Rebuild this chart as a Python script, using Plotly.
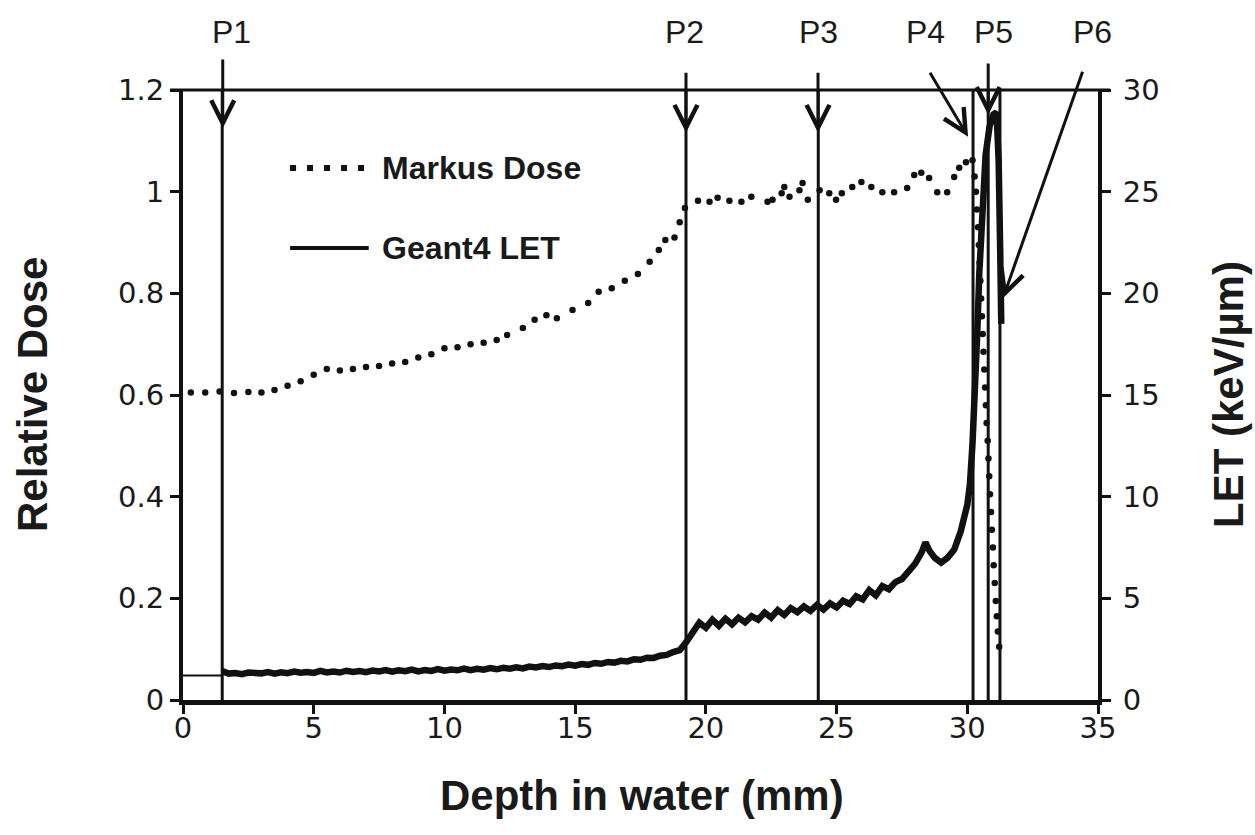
import plotly.graph_objects as go

# ---------------- data ----------------
dose_depth = [0.3, 0.85, 1.4, 1.95, 2.5, 3.0, 3.5, 4.0, 4.5, 5.0, 5.5, 6.0, 6.5, 7.0, 7.5,
              8.0, 8.5, 9.0, 9.5, 10.0, 10.5, 11.0, 11.5, 12.0, 12.4, 13.0, 13.45, 13.9,
              14.3, 14.9, 15.5, 15.9, 16.4, 16.9, 17.4, 17.85, 18.2, 18.45, 18.8, 19.0,
              19.2, 19.7, 20.14, 20.45, 20.9, 21.36, 21.74, 22.36, 22.55, 22.9, 23.0,
              23.2, 23.58, 23.7, 23.9, 24.35, 24.72, 24.98, 25.2, 25.6, 25.95, 26.33,
              26.75, 27.2, 27.7, 27.97, 28.24, 28.54, 28.85, 29.23, 29.5, 29.69, 29.95,
              30.2, 30.28, 30.33, 30.37, 30.41, 30.44, 30.47, 30.5, 30.53, 30.56, 30.59,
              30.62, 30.65, 30.68, 30.71, 30.74, 30.78, 30.81, 30.84, 30.87, 30.91,
              30.94, 30.98, 31.01, 31.05, 31.09, 31.13, 31.17, 31.22]
dose_value = [0.605, 0.605, 0.607, 0.604, 0.606, 0.605, 0.610, 0.618, 0.627, 0.640, 0.651,
              0.648, 0.651, 0.655, 0.657, 0.662, 0.665, 0.674, 0.680, 0.692, 0.694, 0.700,
              0.703, 0.708, 0.718, 0.732, 0.748, 0.757, 0.751, 0.767, 0.781, 0.803, 0.810,
              0.825, 0.838, 0.862, 0.885, 0.905, 0.910, 0.940, 0.968, 0.982, 0.980, 0.988,
              0.982, 0.980, 0.990, 0.980, 0.984, 0.997, 1.009, 0.990, 1.003, 1.017, 0.984,
              1.003, 0.997, 0.984, 0.997, 1.009, 1.019, 1.009, 0.999, 0.999, 1.007, 1.033,
              1.037, 1.027, 0.999, 0.999, 1.029, 1.047, 1.058, 1.062, 1.030, 1.000, 0.965,
              0.930, 0.895, 0.860, 0.825, 0.790, 0.755, 0.720, 0.685, 0.650, 0.615, 0.580,
              0.545, 0.510, 0.475, 0.440, 0.405, 0.370, 0.335, 0.300, 0.265, 0.230, 0.195,
              0.165, 0.135, 0.105]

let_lead_depth = [0.0, 1.5]
let_lead_value = [1.2, 1.2]

let_depth = [1.5, 1.75, 2.0, 2.25, 2.5, 2.75, 3.0, 3.25, 3.5, 3.75, 4.0, 4.25, 4.5, 4.75,
             5.0, 5.25, 5.5, 5.75, 6.0, 6.25, 6.5, 6.75, 7.0, 7.25, 7.5, 7.75, 8.0, 8.25,
             8.5, 8.75, 9.0, 9.25, 9.5, 9.75, 10.0, 10.25, 10.5, 10.75, 11.0, 11.25, 11.5,
             11.75, 12.0, 12.25, 12.5, 12.75, 13.0, 13.25, 13.5, 13.75, 14.0, 14.25, 14.5,
             14.75, 15.0, 15.25, 15.5, 15.75, 16.0, 16.25, 16.5, 16.75, 17.0, 17.25, 17.5,
             17.75, 18.0, 18.25, 18.5, 18.75, 19.0, 19.25, 19.5, 19.75, 20.0, 20.25, 20.5,
             20.75, 21.0, 21.25, 21.5, 21.75, 22.0, 22.25, 22.5, 22.75, 23.0, 23.25, 23.5,
             23.75, 24.0, 24.25, 24.5, 24.75, 25.0, 25.25, 25.5, 25.75, 26.0, 26.25, 26.5,
             26.75, 27.0, 27.25, 27.5, 27.75, 28.0, 28.25, 28.4, 28.55, 28.75, 29.0, 29.25,
             29.5, 29.75, 30.0, 30.1, 30.2, 30.3, 30.38, 30.46, 30.56, 30.7, 30.85, 31.0,
             31.12, 31.2, 31.26, 31.3]
let_value = [1.42, 1.30, 1.33, 1.27, 1.35, 1.29, 1.31, 1.37, 1.30, 1.36, 1.32, 1.40, 1.34,
             1.38, 1.33, 1.43, 1.36, 1.40, 1.35, 1.44, 1.38, 1.42, 1.37, 1.45, 1.40, 1.47,
             1.39, 1.46, 1.42, 1.50, 1.41, 1.47, 1.43, 1.52, 1.44, 1.50, 1.46, 1.54, 1.47,
             1.53, 1.49, 1.57, 1.51, 1.58, 1.54, 1.61, 1.55, 1.64, 1.60, 1.67, 1.62, 1.70,
             1.66, 1.74, 1.69, 1.77, 1.73, 1.82, 1.78, 1.87, 1.84, 1.93, 1.90, 2.00, 1.98,
             2.08, 2.07, 2.18, 2.22, 2.36, 2.45,
             2.85, 3.35, 3.80, 3.55, 3.95, 3.65, 4.00, 3.72, 4.05, 3.82, 4.12, 3.95, 4.30,
             4.05, 4.42, 4.18, 4.52, 4.32, 4.60, 4.38, 4.68, 4.45, 4.75, 4.55, 4.88, 4.72,
             5.10,
             4.95, 5.40, 5.15, 5.60, 5.45, 5.80, 5.95, 6.30, 6.70, 7.25, 7.75, 7.35, 7.00,
             6.75, 7.00, 7.40, 8.30, 9.60, 10.6, 12.6, 15.2, 18.0, 21.0, 24.0, 26.8, 28.2,
             28.8, 28.9, 26.5, 22.0, 18.5]

marker_depths = [1.5, 19.24, 24.3, 30.22, 30.8, 31.25]
marker_labels = ["P1", "P2", "P3", "P4", "P5", "P6"]
label_depths = [1.87, 19.2, 24.3, 28.4, 31.0, 34.8]
arrow_tail = [(1.52, 1.263), (19.24, 1.237), (24.29, 1.237), (28.54, 1.237), (30.8, 1.255), (34.43, 1.239)]
arrow_tip = [(1.52, 1.125), (19.24, 1.116), (24.29, 1.116), (30.03, 1.108), (30.8, 1.151), (31.37, 0.791)]

x_ticks = [0, 5, 10, 15, 20, 25, 30, 35]
dose_ticks = [0, 0.2, 0.4, 0.6, 0.8, 1.0, 1.2]
dose_tick_text = ["0", "0.2", "0.4", "0.6", "0.8", "1", "1.2"]
let_ticks = [0, 5, 10, 15, 20, 25, 30]

# ---------------- figure ----------------
TICK_FONT = dict(family="DejaVu Sans", size=29, color="#1a1a1a")
TITLE_FONT = dict(family="Liberation Sans", size=42, color="#1a1a1a", weight="bold")
LABEL_FONT = dict(family="Liberation Sans", size=32, color="#1a1a1a")
LEGEND_FONT = dict(family="Liberation Sans", size=32, color="#1a1a1a", weight="bold")

fig = go.Figure()

fig.add_trace(go.Scatter(x=let_lead_depth, y=let_lead_value, yaxis="y2", mode="lines",
                         line=dict(color="#111", width=2), showlegend=False, hoverinfo="skip"))
fig.add_trace(go.Scatter(x=let_depth, y=let_value, yaxis="y2", mode="lines",
                         line=dict(color="#111", width=6.5), showlegend=False))
fig.add_trace(go.Scatter(x=dose_depth, y=dose_value, yaxis="y", mode="markers",
                         marker=dict(color="#111", size=6.5), showlegend=False))

shapes = []
for d in marker_depths:
    shapes.append(dict(type="line", xref="x", yref="y", x0=d, x1=d, y0=0, y1=1.2,
                       line=dict(color="#111", width=3)))
# top frame line
shapes.append(dict(type="line", xref="paper", yref="paper", x0=-0.014, x1=1.013, y0=1, y1=1,
                   line=dict(color="#111", width=3)))
# legend symbols
shapes.append(dict(type="line", xref="paper", yref="paper", x0=0.117, x1=0.203,
                   y0=(700 - 168) / 610, y1=(700 - 168) / 610,
                   line=dict(color="#111", width=6, dash="6px,11px")))
shapes.append(dict(type="line", xref="paper", yref="paper", x0=0.117, x1=0.203,
                   y0=(700 - 248) / 610, y1=(700 - 248) / 610,
                   line=dict(color="#111", width=4)))

annotations = []
for lab, ld in zip(marker_labels, label_depths):
    annotations.append(dict(text=lab, x=ld, xref="x", y=(700 - 32) / 610, yref="paper",
                            showarrow=False, xanchor="center", yanchor="middle",
                            font=LABEL_FONT))
for (tx, ty), (hx, hy) in zip(arrow_tail, arrow_tip):
    annotations.append(dict(text="", x=hx, y=hy, xref="x", yref="y", ax=tx, ay=ty,
                            axref="x", ayref="y", showarrow=True, arrowhead=5,
                            arrowsize=1.5, arrowwidth=3, arrowcolor="#111"))
annotations.append(dict(text="Markus Dose", x=(380 - 183) / 915, y=(700 - 168) / 610,
                        xref="paper", yref="paper", showarrow=False, xanchor="left",
                        yanchor="middle", font=LEGEND_FONT))
annotations.append(dict(text="Geant4 LET", x=(380 - 183) / 915, y=(700 - 248) / 610,
                        xref="paper", yref="paper", showarrow=False, xanchor="left",
                        yanchor="middle", font=LEGEND_FONT))
annotations.append(dict(text="Relative Dose", x=(32 - 183) / 915, y=(700 - 395) / 610,
                        xref="paper", yref="paper", showarrow=False, textangle=-90,
                        xanchor="center", yanchor="middle", font=TITLE_FONT))
annotations.append(dict(text="LET (keV/µm)", x=(1228 - 183) / 915, y=(700 - 395) / 610,
                        xref="paper", yref="paper", showarrow=False, textangle=-90,
                        xanchor="center", yanchor="middle", font=TITLE_FONT))
annotations.append(dict(text="Depth in water (mm)", x=(642 - 183) / 915, y=(700 - 795) / 610,
                        xref="paper", yref="paper", showarrow=False,
                        xanchor="center", yanchor="middle", font=TITLE_FONT))

fig.update_layout(
    width=1255, height=835,
    margin=dict(l=183, r=157, t=90, b=135),
    paper_bgcolor="white", plot_bgcolor="white",
    showlegend=False,
    xaxis=dict(range=[0, 35], tickvals=x_ticks, showgrid=False, zeroline=False,
               showline=True, linecolor="#111", linewidth=5, ticks="outside",
               ticklen=9, tickwidth=3, tickcolor="#111", tickfont=TICK_FONT,
               ticklabelstandoff=-11),
    yaxis=dict(range=[0, 1.2], tickvals=dose_ticks, ticktext=dose_tick_text,
               showgrid=False, zeroline=False, showline=True, linecolor="#111",
               linewidth=4, ticks="outside", ticklen=9, tickwidth=3, tickcolor="#111",
               tickfont=TICK_FONT),
    yaxis2=dict(range=[0, 30], tickvals=let_ticks, overlaying="y", side="right",
                showgrid=False, zeroline=False, showline=True, linecolor="#111",
                linewidth=4, ticks="outside", ticklen=9, tickwidth=3, tickcolor="#111",
                tickfont=TICK_FONT, ticklabelstandoff=6),
    shapes=shapes,
    annotations=annotations,
)

fig.write_html("out.html")
